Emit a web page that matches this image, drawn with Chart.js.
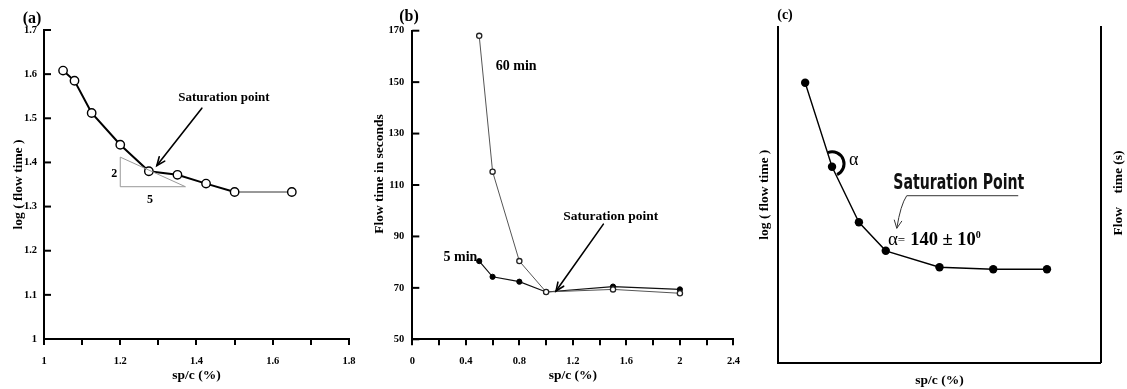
<!DOCTYPE html>
<html><head><meta charset="utf-8">
<script src="https://cdn.jsdelivr.net/npm/chart.js@4.4.1/dist/chart.umd.min.js"></script>
<style>
html,body{margin:0;padding:0;background:#fff;}
#wrap{position:relative;width:1127px;height:389px;overflow:hidden;background:#fff;}
canvas{position:absolute;top:0;}
</style></head><body>
<div id="wrap">
<canvas id="ca" width="370" height="389" style="left:0px"></canvas>
<canvas id="cb" width="380" height="389" style="left:370px"></canvas>
<canvas id="cc" width="377" height="389" style="left:750px"></canvas>
</div>
<script>
// ---- Panel (a) data ----
const aSpc = [1.05, 1.08, 1.125, 1.2, 1.275, 1.35, 1.425, 1.5, 1.65];
const aLogFlow = [1.608, 1.585, 1.512, 1.44, 1.38, 1.372, 1.352, 1.333, 1.333];
const aXTickLabels = ['1', '1.2', '1.4', '1.6', '1.8'];
const aYTickLabels = ['1', '1.1', '1.2', '1.3', '1.4', '1.5', '1.6', '1.7'];

// ---- Panel (b) data ----
const bSpc = [0.5, 0.6, 0.8, 1.0, 1.5, 2.0];
const b60min = [168, 115.2, 80.4, 68.4, 69.4, 67.9];
const b5min = [80.4, 74.3, 72.4, 68.4, 70.5, 69.4];
const bXTickLabels = ['0', '0.4', '0.8', '1.2', '1.6', '2', '2.4'];
const bYTickLabels = ['50', '70', '90', '110', '130', '150', '170'];

// ---- Panel (c) data (schematic, no tick values) ----
const cSpc = [1, 2, 3, 4, 6, 8, 10];
const cLogFlow = [8.33, 5.83, 4.18, 3.33, 2.84, 2.78, 2.78];

const SERIF = "'Liberation Serif','Times New Roman',Times,serif";
const NARROW = "'Liberation Sans Narrow','Arial Narrow','DejaVu Sans Condensed',sans-serif";
Chart.defaults.font.family = SERIF;
Chart.defaults.color = '#000';
Chart.defaults.animation = false;

function P(chart, x, y, xs, ys) {
  return [chart.scales[xs || 'x'].getPixelForValue(x), chart.scales[ys || 'y'].getPixelForValue(y)];
}
function txt(ctx, s, x, y, font, align, rot) {
  ctx.save();
  ctx.font = font;
  ctx.fillStyle = '#000';
  ctx.textAlign = align || 'center';
  ctx.textBaseline = 'middle';
  ctx.translate(x, y);
  if (rot) ctx.rotate(rot);
  ctx.fillText(s, 0, 0);
  ctx.restore();
}
function arrow(ctx, x1, y1, x2, y2, head, lw, color) {
  ctx.save();
  ctx.strokeStyle = color || '#000';
  ctx.lineWidth = lw || 1.5;
  ctx.lineCap = 'round';
  ctx.beginPath(); ctx.moveTo(x1, y1); ctx.lineTo(x2, y2); ctx.stroke();
  const ang = Math.atan2(y2 - y1, x2 - x1);
  ctx.beginPath();
  ctx.moveTo(x2 - head * Math.cos(ang - 0.4), y2 - head * Math.sin(ang - 0.4));
  ctx.lineTo(x2, y2);
  ctx.lineTo(x2 - head * Math.cos(ang + 0.4), y2 - head * Math.sin(ang + 0.4));
  ctx.stroke();
  ctx.restore();
}
const inwardTicks = {
  id: 'inwardTicks',
  afterDraw(chart) {
    const s = chart.scales.y, a = chart.chartArea, ctx = chart.ctx;
    ctx.save();
    ctx.strokeStyle = '#000'; ctx.lineWidth = 2;
    s.ticks.forEach(t => {
      const y = s.getPixelForValue(t.value);
      ctx.beginPath(); ctx.moveTo(a.left, y); ctx.lineTo(a.left + 7, y); ctx.stroke();
    });
    ctx.restore();
  }
};

// ================= Panel (a) =================
const annA = {
  id: 'annA',
  afterDraw(chart) {
    const ctx = chart.ctx;
    const t1 = P(chart, 1.2, 1.412), t2 = P(chart, 1.2, 1.345), t3 = P(chart, 1.371, 1.345);
    ctx.save();
    ctx.strokeStyle = '#999'; ctx.lineWidth = 1;
    ctx.beginPath(); ctx.moveTo(t1[0], t1[1]); ctx.lineTo(t2[0], t2[1]); ctx.lineTo(t3[0], t3[1]); ctx.closePath(); ctx.stroke();
    ctx.restore();
    let p = P(chart, 1.184, 1.375); txt(ctx, '2', p[0], p[1], 'bold 12px ' + SERIF);
    p = P(chart, 1.278, 1.315); txt(ctx, '5', p[0], p[1], 'bold 12px ' + SERIF);
    p = P(chart, 1.472, 1.546); txt(ctx, 'Saturation point', p[0], p[1], 'bold 13px ' + SERIF);
    const s = P(chart, 1.414, 1.523), e = P(chart, 1.296, 1.393);
    arrow(ctx, s[0], s[1], e[0], e[1], 9, 1.6);
    txt(ctx, '(a)', 32, 19, 'bold 16px ' + SERIF);
  }
};
new Chart(document.getElementById('ca'), {
  type: 'line',
  data: {
    datasets: [{
      data: aSpc.map((x, i) => ({ x, y: aLogFlow[i] })),
      borderColor: '#000', borderWidth: 2,
      pointStyle: 'circle', pointRadius: 4.2, pointBackgroundColor: '#fff',
      pointBorderColor: '#000', pointBorderWidth: 1.4,
      segment: {
        borderWidth: c => c.p0DataIndex === 7 ? 1 : 2,
        borderColor: c => c.p0DataIndex === 7 ? '#333' : '#000'
      }
    }]
  },
  options: {
    responsive: false, animation: false, events: [],
    layout: { padding: { top: 30, right: 21, left: 0, bottom: 0 } },
    plugins: { legend: { display: false }, tooltip: { enabled: false } },
    scales: {
      x: {
        type: 'linear', min: 1, max: 1.8,
        afterFit: s => { s.height = 50; },
        ticks: { stepSize: 0.1, autoSkip: false, maxRotation: 0, padding: 10, color: '#000',
          font: { size: 10.5, weight: 'bold' },
          callback: (v, i) => (i % 2 === 0 ? aXTickLabels[i / 2] : '') },
        grid: { drawOnChartArea: false, drawTicks: true, tickLength: 6, color: '#000', lineWidth: 2 },
        border: { display: true, color: '#000', width: 2 },
        title: { display: true, text: 'sp/c (%)', color: '#000', font: { size: 13.5, weight: 'bold' }, padding: { top: 0, bottom: 5 } }
      },
      y: {
        type: 'linear', min: 1, max: 1.7,
        afterFit: s => { s.width = 44; },
        ticks: { stepSize: 0.1, padding: 7, color: '#000', font: { size: 10.5, weight: 'bold' },
          callback: (v, i) => aYTickLabels[i] },
        grid: { display: false, drawTicks: false },
        border: { display: true, color: '#000', width: 2 },
        title: { display: true, text: 'log ( flow time )', color: '#000', font: { size: 13.5, weight: 'bold' }, padding: { top: 10, bottom: 0 } }
      }
    }
  },
  plugins: [inwardTicks, annA]
});

// ================= Panel (b) =================
const annB = {
  id: 'annB',
  afterDraw(chart) {
    const ctx = chart.ctx;
    let p = P(chart, 0.776, 156); txt(ctx, '60 min', p[0], p[1], 'bold 14px ' + SERIF);
    p = P(chart, 0.36, 81.9); txt(ctx, '5 min', p[0], p[1], 'bold 14px ' + SERIF);
    p = P(chart, 1.483, 97.9); txt(ctx, 'Saturation point', p[0], p[1], 'bold 13.5px ' + SERIF);
    const s = P(chart, 1.428, 94.8), e = P(chart, 1.074, 68.8);
    arrow(ctx, s[0], s[1], e[0], e[1], 9, 1.6);
    txt(ctx, 'Flow time in seconds', 10, 174, 'bold 13.5px ' + SERIF, 'center', -Math.PI / 2);
    txt(ctx, '(b)', 39, 17, 'bold 16px ' + SERIF);
  }
};
new Chart(document.getElementById('cb'), {
  type: 'line',
  data: {
    datasets: [{
      label: '60 min',
      data: bSpc.map((x, i) => ({ x, y: b60min[i] })),
      borderColor: '#555', borderWidth: 1,
      pointStyle: 'circle', pointRadius: 2.6, pointBackgroundColor: '#fff',
      pointBorderColor: '#222', pointBorderWidth: 1.3
    }, {
      label: '5 min',
      data: bSpc.map((x, i) => ({ x, y: b5min[i] })),
      borderColor: '#111', borderWidth: 1.2,
      pointStyle: 'circle', pointRadius: 2.6, pointBackgroundColor: '#000',
      pointBorderColor: '#000', pointBorderWidth: 1
    }]
  },
  options: {
    responsive: false, animation: false, events: [],
    layout: { padding: { top: 30.7, right: 15, left: 0, bottom: 0 } },
    plugins: { legend: { display: false }, tooltip: { enabled: false } },
    scales: {
      x: {
        type: 'linear', min: 0, max: 2.4,
        afterFit: s => { s.height = 49.7; },
        ticks: { stepSize: 0.2, autoSkip: false, maxRotation: 0, padding: 10, color: '#000',
          font: { size: 10.5, weight: 'bold' },
          callback: (v, i) => (i % 2 === 0 ? bXTickLabels[i / 2] : '') },
        grid: { drawOnChartArea: false, drawTicks: true, tickLength: 6, color: '#000', lineWidth: 2 },
        border: { display: true, color: '#000', width: 2 },
        title: { display: true, text: 'sp/c (%)', color: '#000', font: { size: 13.5, weight: 'bold' }, padding: { top: 0, bottom: 5 } }
      },
      y: {
        type: 'linear', min: 50, max: 170,
        afterFit: s => { s.width = 42.3; },
        ticks: { stepSize: 20, padding: 8, color: '#000', font: { size: 10.5, weight: 'bold' },
          callback: (v, i) => bYTickLabels[i] },
        grid: { display: false, drawTicks: false },
        border: { display: true, color: '#000', width: 2 },
        title: { display: false }
      }
    }
  },
  plugins: [inwardTicks, annB]
});

// ================= Panel (c) =================
const annC = {
  id: 'annC',
  afterDraw(chart) {
    const ctx = chart.ctx;
    const pt = chart.getDatasetMeta(0).data[1];
    ctx.save();
    ctx.strokeStyle = '#000'; ctx.lineWidth = 3;
    ctx.beginPath();
    ctx.arc(pt.x, pt.y - 3, 12, -110 * Math.PI / 180, 65 * Math.PI / 180, false);
    ctx.stroke();
    ctx.restore();
    let p = P(chart, 2.81, 6.03); txt(ctx, 'α', p[0], p[1], '18px ' + SERIF);
    p = P(chart, 6.72, 5.35);
    ctx.save();
    ctx.font = 'bold 22px ' + NARROW;
    const w = ctx.measureText('Saturation Point').width;
    ctx.translate(p[0], p[1]);
    ctx.scale(131 / w, 1);
    ctx.fillStyle = '#111'; ctx.textAlign = 'center'; ctx.textBaseline = 'middle';
    ctx.fillText('Saturation Point', 0, 0);
    ctx.restore();
    const u1 = P(chart, 4.78, 4.97), u2 = P(chart, 8.93, 4.97), tip = P(chart, 4.41, 4.0), cp = P(chart, 4.55, 4.7);
    ctx.save();
    ctx.strokeStyle = '#333'; ctx.lineWidth = 1;
    ctx.beginPath(); ctx.moveTo(u2[0], u2[1]); ctx.lineTo(u1[0], u1[1]);
    ctx.quadraticCurveTo(cp[0], cp[1], tip[0], tip[1]); ctx.stroke();
    const ang = Math.atan2(tip[1] - cp[1], tip[0] - cp[0]);
    ctx.beginPath();
    ctx.moveTo(tip[0] - 9 * Math.cos(ang - 0.45), tip[1] - 9 * Math.sin(ang - 0.45));
    ctx.lineTo(tip[0], tip[1]);
    ctx.lineTo(tip[0] - 9 * Math.cos(ang + 0.45), tip[1] - 9 * Math.sin(ang + 0.45));
    ctx.stroke();
    ctx.restore();
    p = P(chart, 4.08, 3.65);
    ctx.save();
    ctx.fillStyle = '#000'; ctx.textAlign = 'left'; ctx.textBaseline = 'middle';
    let x = p[0], y = p[1];
    ctx.font = '19px ' + SERIF; ctx.fillText('α', x, y); x += ctx.measureText('α').width;
    ctx.font = '13px ' + SERIF; ctx.fillText('=', x, y + 1); x += ctx.measureText('=').width + 5;
    ctx.font = 'bold 18.5px ' + SERIF; ctx.fillText('140 ± 10', x, y); x += ctx.measureText('140 ± 10').width;
    ctx.font = 'bold 10px ' + SERIF; ctx.fillText('0', x, y - 5);
    ctx.restore();
    txt(ctx, 'Flow    time (s)', 369, 193, 'bold 13.5px ' + SERIF, 'center', -Math.PI / 2);
    txt(ctx, '(c)', 35, 15, 'bold 14px ' + SERIF);
  }
};
new Chart(document.getElementById('cc'), {
  type: 'line',
  data: {
    datasets: [{
      data: cSpc.map((x, i) => ({ x, y: cLogFlow[i] })),
      borderColor: '#000', borderWidth: 1.4,
      pointStyle: 'circle', pointRadius: 4.2, pointBackgroundColor: '#000',
      pointBorderColor: '#000', pointBorderWidth: 0
    }]
  },
  options: {
    responsive: false, animation: false, events: [],
    layout: { padding: { top: 26.7, right: 0, left: 0, bottom: 0 } },
    plugins: { legend: { display: false }, tooltip: { enabled: false } },
    scales: {
      x: {
        type: 'linear', min: 0, max: 12,
        afterFit: s => { s.height = 26.3; },
        ticks: { display: false },
        grid: { display: false, drawTicks: false },
        border: { display: true, color: '#000', width: 2 },
        title: { display: true, text: 'sp/c (%)', color: '#000', font: { size: 13.5, weight: 'bold' }, padding: { top: 0, bottom: 0 } }
      },
      y: {
        type: 'linear', min: 0, max: 10, position: 'left',
        afterFit: s => { s.width = 28.3; },
        ticks: { display: false },
        grid: { display: false, drawTicks: false },
        border: { display: true, color: '#000', width: 2 },
        title: { display: true, text: 'log ( flow time )', color: '#000', font: { size: 13.5, weight: 'bold' }, padding: { top: 6.9, bottom: 0 } }
      },
      y2: {
        type: 'linear', min: 0, max: 10, position: 'right',
        afterFit: s => { s.width = 26.3; },
        ticks: { display: false },
        grid: { display: false, drawTicks: false },
        border: { display: true, color: '#000', width: 2 }
      }
    }
  },
  plugins: [annC]
});
</script>
</body></html>
